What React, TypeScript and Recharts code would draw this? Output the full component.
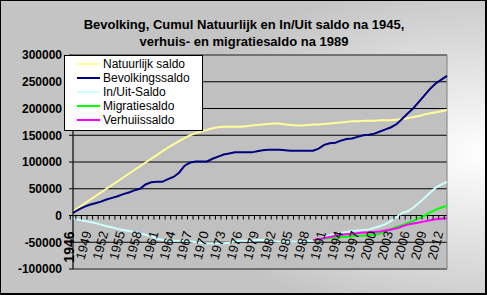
import { CartesianGrid, Legend, Line, LineChart, ReferenceArea, XAxis, YAxis } from 'recharts';

const years = [
  1946, 1947, 1948, 1949, 1950, 1951, 1952, 1953, 1954, 1955, 1956, 1957, 1958, 1959, 1960, 1961, 1962,
  1963, 1964, 1965, 1966, 1967, 1968, 1969, 1970, 1971, 1972, 1973, 1974, 1975, 1976, 1977, 1978, 1979,
  1980, 1981, 1982, 1983, 1984, 1985, 1986, 1987, 1988, 1989, 1990, 1991, 1992, 1993, 1994, 1995, 1996,
  1997, 1998, 1999, 2000, 2001, 2002, 2003, 2004, 2005, 2006, 2007, 2008, 2009, 2010, 2011, 2012, 2013,
];

const natuurlijk = [
  8000, 15000, 22000, 29000, 36000, 43000, 50000, 57000, 64000, 71000, 78000, 85000, 92000, 99000, 106000,
  113000, 120000, 127000, 133000, 139000, 145000, 150000, 154000, 157000, 160000, 163000, 165000, 166000,
  166000, 166000, 166000, 167000, 168000, 169000, 170000, 171000, 172000, 172000, 170000, 169000, 168000,
  168000, 169000, 170000, 170000, 171000, 172000, 173000, 174000, 175000, 176000, 176000, 177000, 177000,
  177000, 178000, 178000, 178000, 179000, 180000, 182000, 184000, 186000, 189000, 191000, 193000, 195000,
  197000,
];

const bevolking = [
  5000, 11000, 16000, 20000, 23000, 26000, 30000, 33000, 36000, 40000, 43000, 47000, 50000, 58000, 62000,
  63000, 63000, 68000, 72000, 80000, 93000, 99000, 101000, 101000, 101000, 106000, 110000, 114000, 116000,
  118000, 118000, 118000, 118000, 120000, 122000, 123000, 123000, 123000, 122000, 121000, 121000, 121000,
  121000, 121000, 125000, 132000, 135000, 136000, 140000, 143000, 144000, 147000, 150000, 151000, 153000,
  157000, 161000, 165000, 171000, 181000, 191000, 201000, 213000, 225000, 237000, 247000, 254000, 261000,
];

const inUit = [
  -5000, -8000, -10000, -12000, -14000, -17000, -20000, -22000, -25000, -27000, -29000, -31000, -33000,
  -36000, -39000, -43000, -46000, -47000, -47000, -47000, -47000, -48000, -50000, -51000, -52000, -52000,
  -52000, -52000, -51000, -48000, -47000, -47000, -47000, -46000, -46000, -46000, -48000, -49000, -49000,
  -49000, -49000, -48000, -47000, -47000, -44000, -40000, -37000, -34000, -32000, -31000, -29000, -28000,
  -27000, -26000, -23000, -20000, -16000, -10000, -3000, 5000, 8000, 15000, 24000, 33000, 43000, 52000,
  58000, 63000,
];

// geen verhuis- en migratiesaldo voor 1989
const voor1989 = Array(43).fill(null);

const migratie = voor1989.concat([
  -46000, -45000, -43000, -42000, -41000, -40000, -40000, -39000, -38000, -38000, -37000, -36000, -34000,
  -30000, -25000, -21000, -18000, -14000, -10000, -5000, 0, 6000, 11000, 15000, 18000,
]);

const verhuis = voor1989.concat([
  -46000, -44000, -42000, -40000, -38000, -36000, -35000, -34000, -33000, -32000, -32000, -31000, -30000,
  -28000, -26000, -24000, -20000, -17000, -15000, -13000, -11000, -9000, -7000, -6000, -5000,
]);

const yTicks = [-100000, -50000, 0, 50000, 100000, 150000, 200000, 250000, 300000];

const series = [
  { key: 'natuurlijk', name: 'Natuurlijk saldo', color: '#ffff99' },
  { key: 'bevolking', name: 'Bevolkingssaldo', color: '#000080' },
  { key: 'inUit', name: 'In/Uit-Saldo', color: '#ccffff' },
  { key: 'migratie', name: 'Migratiesaldo', color: '#00ff00' },
  { key: 'verhuis', name: 'Verhuiissaldo', color: '#ff00ff' },
];

const data = years.map((year, i) => ({
  year,
  natuurlijk: natuurlijk[i],
  bevolking: bevolking[i],
  inUit: inUit[i],
  migratie: migratie[i],
  verhuis: verhuis[i],
}));

const PLOT_TOP = 55;
const PLOT_H = 214;
const ZERO_Y = PLOT_TOP + (PLOT_H * 300000) / 400000;
const font = 'Arial, "Liberation Sans", sans-serif';

function XTick(props: any) {
  const { x, payload, index } = props;
  const showLabel = index % 3 === 0;
  return (
    <g>
      <line x1={x - 2.75} x2={x - 2.75} y1={ZERO_Y} y2={ZERO_Y + 4} stroke="#000" />
      {showLabel && index === 0 && (
        <text
          transform={`translate(${x + 1},${ZERO_Y + 16}) rotate(-90)`}
          textAnchor="end"
          fontSize={14}
          fontWeight="bold"
          fontFamily={font}
          fill="#000"
        >
          {payload.value}
        </text>
      )}
      {showLabel && index > 0 && (
        <text
          transform={`translate(${x + 2},${ZERO_Y + 17}) rotate(-75)`}
          textAnchor="end"
          fontSize={13}
          fontFamily={font}
          fill="#000"
        >
          {payload.value}
        </text>
      )}
    </g>
  );
}

function LegendBox() {
  return (
    <div
      style={{
        width: 137,
        height: 73,
        background: '#fff',
        border: '1px solid #000',
        fontFamily: font,
        fontSize: 12,
        paddingTop: 1,
        boxSizing: 'content-box',
      }}
    >
      {series.map((s) => (
        <div key={s.key} style={{ display: 'flex', alignItems: 'center', height: 14 }}>
          <span style={{ width: 23, height: 2, background: s.color, marginLeft: 12, marginRight: 3 }} />
          <span>{s.name}</span>
        </div>
      ))}
    </div>
  );
}

export default function App() {
  return (
    <div
      style={{
        position: 'absolute',
        left: 0,
        top: 0,
        width: 487,
        height: 295,
        boxSizing: 'border-box',
        borderTop: '1px solid #000',
        borderLeft: '1px solid #000',
        borderRight: '2px solid #000',
        borderBottom: '2px solid #000',
        background: 'radial-gradient(ellipse 65% 60% at 100% 52%, #ffffff 0%, #c4c4c4 100%)',
      }}
    >
      <div
        style={{
          position: 'absolute',
          left: 0,
          top: 15,
          width: 486,
          textAlign: 'center',
          fontFamily: font,
          fontWeight: 'bold',
          fontSize: 13,
          lineHeight: '17px',
          color: '#000',
        }}
      >
        Bevolking, Cumul Natuurlijk en In/Uit saldo na 1945,
        <br />
        verhuis- en migratiesaldo na 1989
      </div>
      <div style={{ position: 'absolute', left: -1, top: -1 }}>
        <LineChart width={487} height={295} data={data} margin={{ top: PLOT_TOP, right: 40, left: 0, bottom: 0 }}>
          <CartesianGrid vertical={false} stroke="#000" fill="#c0c0c0" />
          <ReferenceArea y1={-100000} y2={300000} fill="none" stroke="#808080" strokeWidth={1} />
          <XAxis dataKey="year" interval={0} axisLine={false} tickLine={false} height={26} tick={<XTick />} />
          <YAxis
            width={73}
            domain={[-100000, 300000]}
            ticks={yTicks}
            interval={0}
            axisLine={{ stroke: '#000' }}
            tickLine={{ stroke: '#000' }}
            tickSize={4}
            tickMargin={7}
            tick={{ fill: '#000', fontSize: 12, fontWeight: 'bold', fontFamily: font }}
          />
          <Legend
            layout="vertical"
            align="center"
            verticalAlign="middle"
            content={<LegendBox />}
            wrapperStyle={{ left: 64, top: 55, width: 139 }}
          />
          {series.map((s) => (
            <Line
              key={s.key}
              type="linear"
              dataKey={s.key}
              name={s.name}
              stroke={s.color}
              strokeWidth={2}
              dot={false}
              isAnimationActive={false}
            />
          ))}
        </LineChart>
      </div>
    </div>
  );
}
